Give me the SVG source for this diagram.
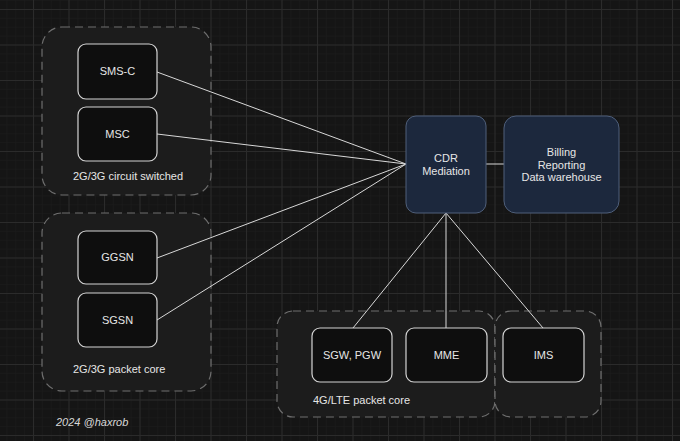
<svg xmlns="http://www.w3.org/2000/svg" width="680" height="441" viewBox="0 0 680 441">
<defs>
<pattern id="minor" x="33" y="9" width="8.875" height="8.875" patternUnits="userSpaceOnUse">
<path d="M0 0V8.875M0 0H8.875" fill="none" stroke="#1d1d1d" stroke-width="1"/>
</pattern>
<pattern id="major" x="33" y="9" width="35.5" height="35.5" patternUnits="userSpaceOnUse">
<path d="M0.5 0V35.5M0 0.5H35.5" fill="none" stroke="#2b2b2b" stroke-width="1"/>
</pattern>
<style>
.grp{fill:#1c1c1c;stroke:#6e6e6e;stroke-width:1.2;stroke-dasharray:8 5}
.node{fill:#0e0e0e;stroke:#d4d4d4;stroke-width:1.2}
.blue{fill:#1c283d;stroke:#4f5f7a;stroke-width:1}
.t{font-family:"Liberation Sans",Arial,sans-serif;font-size:11px;fill:#e6e6e6;text-anchor:middle}
.gl{font-family:"Liberation Sans",Arial,sans-serif;font-size:11px;fill:#e6e6e6}
.c{stroke:#d8d8d8;stroke-width:1;fill:none}
</style>
</defs>
<rect width="680" height="441" fill="#151515"/>
<rect width="680" height="441" fill="url(#minor)"/>
<rect width="680" height="441" fill="url(#major)"/>

<g id="group-circuit">
<rect class="grp" x="42" y="27" width="169" height="168" rx="20"/>
<text class="gl" x="73" y="180">2G/3G circuit switched</text>
</g>
<g id="group-packet">
<rect class="grp" x="42" y="213" width="169" height="178" rx="20"/>
<text class="gl" x="73" y="373">2G/3G packet core</text>
</g>
<g id="group-lte">
<rect class="grp" x="277" y="311" width="218" height="106" rx="16"/>
<text class="gl" x="313" y="404">4G/LTE packet core</text>
</g>
<g id="group-ims">
<rect class="grp" x="495" y="311" width="106" height="106" rx="16"/>
</g>

<g id="connectors">
<line class="c" x1="157" y1="72" x2="406" y2="164"/>
<line class="c" x1="157" y1="134" x2="406" y2="164"/>
<line class="c" x1="157" y1="258" x2="406" y2="164"/>
<line class="c" x1="157" y1="320" x2="406" y2="164"/>
<line class="c" x1="486" y1="164" x2="504" y2="164"/>
<line class="c" x1="446" y1="213" x2="353" y2="328"/>
<line class="c" x1="446" y1="213" x2="446" y2="328"/>
<line class="c" x1="446" y1="213" x2="543" y2="328"/>
</g>

<g id="sms-c">
<rect class="node" x="78" y="44" width="79" height="55" rx="8"/>
<text class="t" x="117.5" y="75">SMS-C</text>
</g>
<g id="msc">
<rect class="node" x="78" y="107" width="79" height="54" rx="8"/>
<text class="t" x="117.5" y="138">MSC</text>
</g>
<g id="ggsn">
<rect class="node" x="78" y="231" width="79" height="53" rx="8"/>
<text class="t" x="117.5" y="261">GGSN</text>
</g>
<g id="sgsn">
<rect class="node" x="78" y="293" width="79" height="54" rx="8"/>
<text class="t" x="117.5" y="324">SGSN</text>
</g>
<g id="cdr">
<rect class="blue" x="406" y="116" width="80" height="97" rx="10"/>
<text class="t" x="446" y="162">CDR</text>
<text class="t" x="446" y="175">Mediation</text>
</g>
<g id="billing">
<rect class="blue" x="504" y="116" width="115" height="97" rx="12"/>
<text class="t" x="561.5" y="156">Billing</text>
<text class="t" x="561.5" y="169">Reporting</text>
<text class="t" x="561.5" y="181">Data warehouse</text>
</g>
<g id="sgw-pgw">
<rect class="node" x="312" y="328" width="80" height="54" rx="8"/>
<text class="t" x="352" y="359">SGW, PGW</text>
</g>
<g id="mme">
<rect class="node" x="406" y="328" width="81" height="54" rx="8"/>
<text class="t" x="446.5" y="359">MME</text>
</g>
<g id="ims">
<rect class="node" x="503" y="328" width="81" height="54" rx="8"/>
<text class="t" x="543.5" y="359">IMS</text>
</g>
<text x="56" y="426" font-family="Liberation Sans, Arial, sans-serif" font-size="11" font-style="italic" fill="#d8d8d8">2024 @haxrob</text>
</svg>
